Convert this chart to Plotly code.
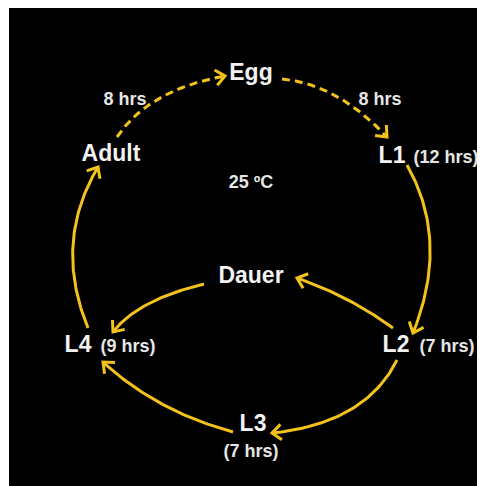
import numpy as np
import plotly.graph_objects as go

# C. elegans life cycle at 25 C -- everything is in picture pixels (y down)
W, H = 485, 486
PAD = 8  # default body margin of the html page

big_labels = ["Egg", "Adult", "L1", "L2", "L3", "L4", "Dauer"]
big_x = [251, 111, 392, 396, 253, 78, 251]
big_y = [74, 155, 157, 346, 425, 346, 277]

small_labels = ["8 hrs", "8 hrs", "(12 hrs)", "(7 hrs)", "(7 hrs)", "(9 hrs)", "25 \u00baC"]
small_x = [125, 380, 446, 447, 251, 128, 251]
small_y = [100, 100, 158, 347, 452, 347, 183]

# arrows: start, a point half way along the curve, tip
arr_x0 = [117, 282, 407, 393, 204, 397, 233, 88]
arr_y0 = [137, 79, 165, 328, 284, 360, 432, 328]
arr_xm = [160, 336, 430, 348, 148, 350, 162, 73]
arr_ym = [98, 96, 245, 300, 304, 410, 404, 245]
arr_x1 = [225, 387, 413, 297, 113, 272, 103, 98]
arr_y1 = [76, 137, 333, 278, 332, 433, 362, 167]
arr_dash = [True, True, False, False, False, False, False, False]

gold = "#f4c21c"

fig = go.Figure()

for i in range(len(arr_x0)):
    p0 = np.array([arr_x0[i], arr_y0[i]], float)
    pm = np.array([arr_xm[i], arr_ym[i]], float)
    p1 = np.array([arr_x1[i], arr_y1[i]], float)
    c = 2 * pm - (p0 + p1) / 2
    t = np.linspace(0, 1, 60)[:, None]
    pts = (1 - t) ** 2 * p0 + 2 * (1 - t) * t * c + t ** 2 * p1
    fig.add_trace(go.Scatter(
        x=pts[:, 0], y=pts[:, 1], mode="lines",
        line=dict(color=gold, width=3, dash="8px,5px" if arr_dash[i] else "solid"),
        hoverinfo="skip"))
    # open chevron head
    d = p1 - c
    d = d / np.hypot(*d)
    hx, hy = [], []
    for s in (1, -1):
        a = np.deg2rad(40) * s
        r = np.array([d[0] * np.cos(a) - d[1] * np.sin(a),
                      d[0] * np.sin(a) + d[1] * np.cos(a)])
        q = p1 - 12 * r
        hx += [q[0], p1[0]] if s == 1 else [q[0]]
        hy += [q[1], p1[1]] if s == 1 else [q[1]]
    fig.add_trace(go.Scatter(x=hx, y=hy, mode="lines",
                             line=dict(color=gold, width=3),
                             hoverinfo="skip"))

fig.add_trace(go.Scatter(
    x=big_x, y=big_y, mode="text", text=big_labels,
    textfont=dict(family="Arial, Liberation Sans", size=23, color="#f2f2f2",
                  weight="bold"),
    hoverinfo="skip"))
fig.add_trace(go.Scatter(
    x=small_x, y=small_y, mode="text", text=small_labels,
    textfont=dict(family="Arial, Liberation Sans", size=18, color="#e6e6e6",
                  weight="bold"),
    hoverinfo="skip"))

fig.update_layout(
    width=W - PAD, height=H - PAD,
    margin=dict(l=0, r=0, t=0, b=0),
    paper_bgcolor="white", plot_bgcolor="white",
    showlegend=False,
    shapes=[dict(type="rect", xref="x", yref="y", x0=9, y0=5, x1=W, y1=H,
                 fillcolor="black", line=dict(width=0), layer="below")],
    xaxis=dict(range=[PAD, W], visible=False, fixedrange=True),
    yaxis=dict(range=[H, PAD], visible=False, fixedrange=True),
)

fig.write_html("out.html")
